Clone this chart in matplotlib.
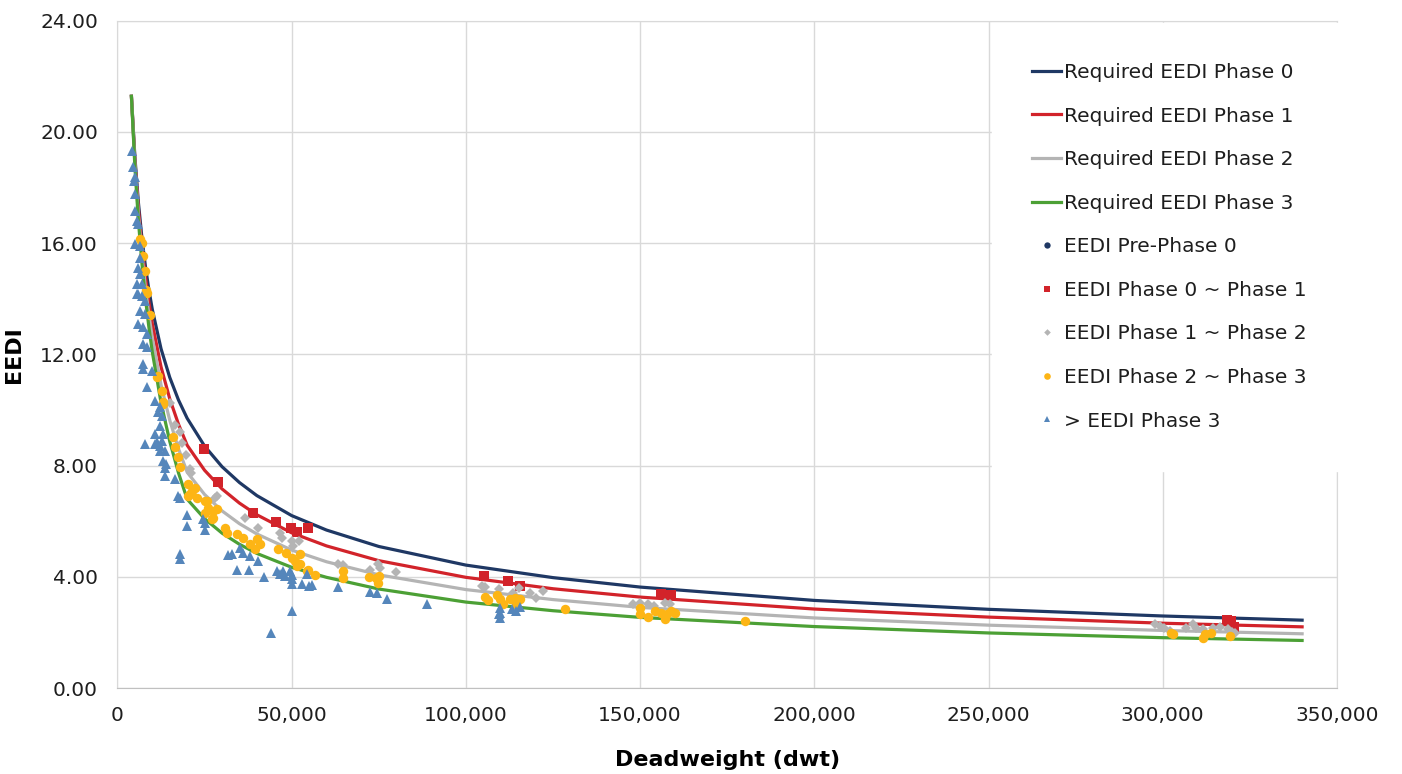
import matplotlib
matplotlib.use("Agg")
from matplotlib import pyplot as plt
from matplotlib.ticker import FuncFormatter, MultipleLocator

# required EEDI reference lines (dwt vs EEDI)
DWT_LINE = [4000, 5000, 6000, 7000, 8000, 9000, 10000, 12500, 15000, 17500,
            20000, 25000, 30000, 35000, 40000, 50000, 60000, 75000, 100000,
            125000, 150000, 200000, 250000, 300000, 340000]
REQ_PHASE_0 = [21.28, 19.09, 17.46, 16.20, 15.18, 14.33, 13.61, 12.20, 11.17, 10.36,
               9.70, 8.70, 7.96, 7.39, 6.92, 6.20, 5.68, 5.09, 4.42,
               3.97, 3.63, 3.15, 2.83, 2.59, 2.44]
REQ_PHASE_1 = [21.28, 18.97, 17.24, 15.90, 14.80, 13.88, 13.10, 11.55, 10.40, 9.49,
               8.73, 7.83, 7.16, 6.65, 6.23, 5.58, 5.11, 4.58, 3.98,
               3.57, 3.27, 2.84, 2.55, 2.33, 2.20]
REQ_PHASE_2 = [21.28, 18.85, 17.02, 15.59, 14.42, 13.43, 12.59, 10.90, 9.63, 8.61,
               7.76, 6.96, 6.37, 5.91, 5.54, 4.96, 4.54, 4.07, 3.54,
               3.18, 2.90, 2.52, 2.26, 2.07, 1.95]
REQ_PHASE_3 = [21.28, 18.73, 16.81, 15.29, 14.04, 12.99, 12.08, 10.26, 8.87, 7.74,
               6.79, 6.09, 5.57, 5.17, 4.84, 4.34, 3.98, 3.56, 3.09,
               2.78, 2.54, 2.21, 1.98, 1.81, 1.71]

# attained EEDI of individual ships
PRE0_DWT = []
PRE0_EEDI = []

P01_DWT = [24800, 28800, 38900, 45500, 49800, 51500, 54600, 105200, 112000, 115500,
           156000, 158800, 318500, 319500, 320500]
P01_EEDI = [8.60, 7.42, 6.30, 5.98, 5.74, 5.60, 5.76, 4.03, 3.85, 3.67,
            3.38, 3.36, 2.46, 2.42, 2.18]

P12_DWT = [15100, 16500, 17900, 18400, 19700, 20800, 21200, 28000, 28500, 36600,
           40400, 46600, 47100, 50000, 50300, 52000, 63300, 64800, 72400, 74800,
           75300, 79900, 104500, 105500, 109600, 113600, 115300, 118300, 120100, 122000,
           148000, 149900, 152300, 154000, 157100, 158500, 297700, 299100, 300500, 302000,
           306800, 308700, 309600, 311500, 314400, 316300, 318700, 320700, 320000]
P12_EEDI = [10.25, 9.45, 9.20, 8.80, 8.38, 7.87, 7.75, 6.85, 6.90, 6.13,
            5.77, 5.59, 5.41, 5.29, 5.11, 5.30, 4.47, 4.43, 4.23, 4.47,
            4.33, 4.19, 3.67, 3.62, 3.55, 3.43, 3.61, 3.43, 3.25, 3.49,
            3.01, 3.07, 3.01, 2.95, 3.07, 3.02, 2.29, 2.23, 2.17, 2.05,
            2.17, 2.29, 2.17, 2.11, 2.17, 2.19, 2.11, 1.99, 2.02]

P23_DWT = [6460, 6940, 7400, 7890, 8180, 8370, 9320, 11420, 11700, 12680,
           12960, 13140, 16000, 16500, 17450, 17930, 20300, 20300, 20800, 21300,
           22240, 22700, 25100, 25600, 26050, 25100, 27500, 28460, 27000, 27500,
           30840, 31300, 34200, 36100, 38000, 39900, 40900, 39450, 46100, 48500,
           50000, 50900, 51400, 52400, 52400, 54300, 54700, 56700, 64800, 64800,
           72250, 74200, 74800, 75100, 105400, 106400, 108800, 109700, 110700, 112600,
           114000, 115500, 114500, 128400, 149900, 149900, 152300, 154200, 156100, 157600,
           159000, 159900, 157100, 180000, 302400, 303000, 312000, 313900, 311500, 319200]
P23_EEDI = [16.15, 16.02, 15.55, 15.00, 14.30, 14.22, 13.42, 11.17, 11.23, 10.69,
            10.21, 10.27, 9.01, 8.65, 8.29, 7.95, 7.33, 6.91, 6.97, 7.09,
            7.21, 6.85, 6.73, 6.73, 6.49, 6.31, 6.37, 6.43, 6.07, 6.13,
            5.74, 5.59, 5.53, 5.41, 5.17, 5.35, 5.17, 4.99, 4.99, 4.87,
            4.69, 4.57, 4.39, 4.81, 4.45, 4.21, 4.23, 4.07, 4.21, 3.95,
            3.99, 3.97, 3.79, 4.03, 3.27, 3.16, 3.34, 3.19, 3.01, 3.19,
            3.25, 3.19, 3.01, 2.85, 2.89, 2.65, 2.55, 2.77, 2.71, 2.65,
            2.77, 2.71, 2.47, 2.41, 1.99, 1.95, 1.93, 1.99, 1.81, 1.87]

P3_DWT = [4070, 4550, 4730, 5020, 5020, 5020, 5500, 5970, 5020, 6460,
          6460, 5970, 6460, 5500, 6940, 5500, 6940, 5970, 7890, 6460,
          7890, 5970, 7400, 8370, 7400, 8370, 7400, 7400, 9810, 8370,
          10760, 11700, 12190, 12680, 12190, 10760, 13140, 12190, 7890, 10760,
          11250, 12680, 12190, 13630, 13140, 13910, 13630, 13630, 16500, 17450,
          17930, 19850, 19850, 24620, 25100, 25100, 17930, 17930, 31790, 32760,
          34200, 35150, 36100, 37800, 38000, 40400, 42000, 45670, 46600, 47500,
          48060, 49500, 50000, 50000, 50000, 52850, 54300, 55000, 55700, 50000,
          44200, 63350, 72450, 74360, 77400, 88700, 109500, 109700, 109700, 109700,
          113100, 114500, 115500]
P3_EEDI = [19.32, 18.72, 18.24, 18.36, 17.77, 17.16, 16.80, 16.69, 15.97, 15.90,
           15.48, 15.12, 14.90, 14.53, 14.53, 14.17, 14.11, 14.17, 13.93, 13.57,
           13.45, 13.09, 12.97, 12.73, 12.37, 12.25, 11.65, 11.47, 11.41, 10.81,
           10.33, 9.91, 10.09, 9.79, 9.43, 9.13, 9.13, 8.71, 8.77, 8.77,
           8.83, 8.89, 8.53, 8.53, 8.17, 8.05, 7.93, 7.63, 7.52, 6.91,
           6.85, 6.22, 5.83, 6.07, 5.95, 5.70, 4.81, 4.63, 4.78, 4.81,
           4.23, 5.05, 4.87, 4.23, 4.75, 4.57, 3.99, 4.21, 4.09, 4.20,
           4.03, 4.21, 3.91, 3.73, 4.05, 3.73, 4.11, 3.67, 3.71, 2.77,
           1.99, 3.63, 3.47, 3.43, 3.19, 3.03, 2.65, 2.89, 2.71, 2.53,
           2.83, 2.77, 2.90]

NAVY = "#1f3864"
RED = "#d2232a"
GREY = "#b4b4b4"
GREEN = "#4ca035"
ORANGE = "#fdb515"
BLUE = "#5586bb"
TEXT = "#1e1e1e"

plt.rcParams["font.family"] = "DejaVu Sans"

fig = plt.figure(figsize=(14.02, 7.74), dpi=100)
ax = fig.add_axes([0.0838, 0.1111, 0.8698, 0.8622])

ax.plot(DWT_LINE, REQ_PHASE_0, color=NAVY, lw=2.3, label="Required EEDI Phase 0", zorder=3)
ax.plot(DWT_LINE, REQ_PHASE_1, color=RED, lw=2.3, label="Required EEDI Phase 1", zorder=3)
ax.plot(DWT_LINE, REQ_PHASE_2, color=GREY, lw=2.3, label="Required EEDI Phase 2", zorder=3)
ax.plot(DWT_LINE, REQ_PHASE_3, color=GREEN, lw=2.3, label="Required EEDI Phase 3", zorder=3)

ax.plot(PRE0_DWT, PRE0_EEDI, ls="none", marker="o", ms=6.5, mew=0, color=NAVY,
        label="EEDI Pre-Phase 0", zorder=4)
ax.plot(P01_DWT, P01_EEDI, ls="none", marker="s", ms=7, mew=0, color=RED,
        label="EEDI Phase 0 ~ Phase 1", zorder=4)
ax.plot(P12_DWT, P12_EEDI, ls="none", marker="D", ms=4.8, mew=0, color=GREY,
        label="EEDI Phase 1 ~ Phase 2", zorder=4)
ax.plot(P23_DWT, P23_EEDI, ls="none", marker="o", ms=6.8, mew=0, color=ORANGE,
        label="EEDI Phase 2 ~ Phase 3", zorder=4)
ax.plot(P3_DWT, P3_EEDI, ls="none", marker="^", ms=7, mew=0, color=BLUE,
        label="> EEDI Phase 3", zorder=4)

ax.set_xlim(0, 350000)
ax.set_ylim(0, 24)
ax.xaxis.set_major_locator(MultipleLocator(50000))
ax.yaxis.set_major_locator(MultipleLocator(4))
ax.xaxis.set_major_formatter(FuncFormatter(lambda v, p: f"{v:,.0f}"))
ax.yaxis.set_major_formatter(FuncFormatter(lambda v, p: f"{v:.2f}"))
ax.tick_params(axis="both", length=0, labelsize=14.5, colors=TEXT)
ax.tick_params(axis="x", pad=13)
ax.tick_params(axis="y", pad=14)

ax.grid(True, color="#d9d9d9", lw=1, zorder=0)
ax.set_axisbelow(True)
for side in ["top", "right", "left"]:
    ax.spines[side].set_color("#d9d9d9")
ax.spines["bottom"].set_color("#c0c0c0")

ax.set_xlabel("Deadweight (dwt)", fontsize=16, fontweight="bold", color="black", labelpad=18)
ax.set_ylabel("EEDI", fontsize=16, fontweight="bold", color="black", labelpad=12)

leg = ax.legend(loc="upper left", bbox_to_anchor=(992 / 1402, 1 - 22.7 / 774),
                bbox_transform=fig.transFigure, fontsize=14.5, frameon=True,
                fancybox=False, framealpha=1, edgecolor="white", facecolor="white",
                borderpad=2.0, handlelength=1.45, handletextpad=0.15,
                labelspacing=1.22, markerscale=0.7, borderaxespad=0)
for t in leg.get_texts():
    t.set_color(TEXT)
leg.set_zorder(5)

fig.savefig("out.png", dpi=100)
